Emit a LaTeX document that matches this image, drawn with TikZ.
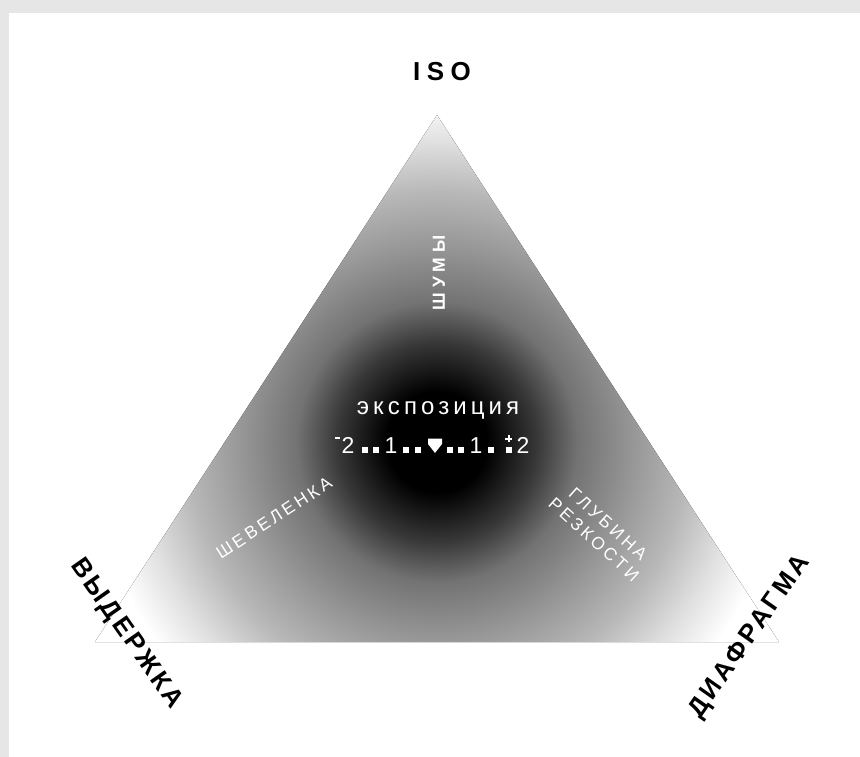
\documentclass[tikz,border=0pt]{standalone}
\usepackage{fontspec}
\setmainfont{Liberation Sans}
\newfontfamily\fBig[LetterSpace=12]{Liberation Sans}
\newfontfamily\fIso[LetterSpace=25]{Liberation Sans}
\newfontfamily\fSmall[LetterSpace=18]{Liberation Sans}
\newfontfamily\fShum[LetterSpace=28]{Liberation Sans}
\newfontfamily\fMid[LetterSpace=17]{Liberation Sans}
\definecolor{bgframe}{HTML}{E6E6E6}
\definecolor{gA}{gray}{0.22}
\definecolor{gB}{gray}{0.45}
\definecolor{gC}{gray}{0.60}
\definecolor{gD}{gray}{0.72}
\definecolor{gE}{gray}{0.88}
\pgfdeclareradialshading{expo}{\pgfpointorigin}{color(0bp)=(black); color(3bp)=(black); color(5.95bp)=(gA); color(8.35bp)=(gB); color(11.9bp)=(gC); color(14.9bp)=(gD); color(17.9bp)=(gE); color(20.5bp)=(white); color(50bp)=(white)}
\tikzset{
  biglabel/.style={font=\fBig\bfseries\fontsize{26}{30}\selectfont, text=black, inner sep=0pt},
  whitelabel/.style={font=\fSmall\fontsize{17.5}{21}\selectfont, text=white, inner sep=0pt, align=center},
  scaletext/.style={font=\fontsize{23}{26}\selectfont, text=white, inner sep=0pt, anchor=base},
  tick/.style={fill=white, draw=none}
}
\begin{document}
\begin{tikzpicture}[x=1pt,y=-1pt]
\useasboundingbox (0,0) rectangle (860,757);
\fill[bgframe] (0,0) rectangle (860,757);
\fill[white] (9,13) rectangle (860,757);
% triangle with radial shading
\coordinate (apex) at (437,115);
\coordinate (bl) at (95,642);
\coordinate (br) at (779,642);
\coordinate (ctr) at (437,442);
\begin{scope}
  \clip (apex) -- (br) -- (bl) -- cycle;
  \fill[shading=expo] (ctr) circle[radius=420];
\end{scope}
% outer labels
\node[font=\fIso\bfseries\fontsize{26}{30}\selectfont, inner sep=0pt] (iso) at (442,72) {ISO};
\node[biglabel, rotate=-55] (vyd) at (126,634) {ВЫДЕРЖКА};
\node[biglabel, rotate=55] (diaf) at (750,637) {ДИАФРАГМА};
% inner labels
\node[whitelabel, font=\fShum\bfseries\fontsize{17.5}{21}\selectfont, rotate=90] (shum) at (439,273) {ШУМЫ};
\node[whitelabel, rotate=33] (shev) at (274,518) {ШЕВЕЛЕНКА};
\node[whitelabel, rotate=-42] (glub) at (601,532) {ГЛУБИНА\\РЕЗКОСТИ};
\node[font=\fMid\fontsize{24}{27}\selectfont, text=white, inner sep=0pt] (expo) at (438,410) {экспозиция};
% exposure scale
\fill[tick] (335,436.5) rectangle (340,439);
\node[scaletext] (m2) at (348,453) {2};
\fill[tick] (362,447) rectangle (368,453);
\fill[tick] (373,447) rectangle (379,453);
\node[scaletext] (m1) at (391,453) {1};
\fill[tick] (403,447) rectangle (409,453);
\fill[tick] (415,447) rectangle (421,453);
\fill[white] (428,438.5) -- (442,438.5) -- (442,444) -- (435,453) -- (428,444) -- cycle;
\fill[tick] (447,447) rectangle (453,453);
\fill[tick] (458,447) rectangle (464,453);
\node[scaletext] (p1) at (476,453) {1};
\fill[tick] (488,447) rectangle (494,453);
\fill[tick] (507.5,435) rectangle (509.5,442);
\fill[tick] (505,437.5) rectangle (512,439.5);
\fill[tick] (505.5,447) rectangle (511.5,453);
\node[scaletext] (p2) at (523,453) {2};
\end{tikzpicture}
\end{document}
